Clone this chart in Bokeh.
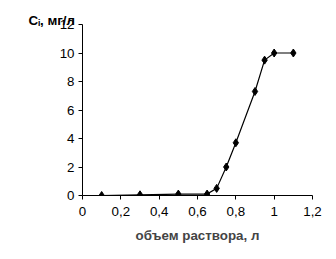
from bokeh.plotting import figure
from bokeh.models import FixedTicker, Range1d
from bokeh.embed import file_html
from bokeh.resources import INLINE

volume = [0.1, 0.3, 0.5, 0.65, 0.7, 0.75, 0.8, 0.9, 0.95, 1.0, 1.1]
conc = [0.0, 0.05, 0.1, 0.1, 0.5, 2.0, 3.7, 7.3, 9.5, 10.0, 10.0]
x_ticks = [0, 0.2, 0.4, 0.6, 0.8, 1.0, 1.2]
x_tick_labels = ["0", "0,2", "0,4", "0,6", "0,8", "1", "1,2"]
y_ticks = [0, 2, 4, 6, 8, 10, 12]
x_title = "объем раствора, л"
y_title = "Cᵢ, мг/л"

FONT = "Liberation Sans"

p = figure(width=336, height=259, output_backend="svg", toolbar_location=None,
           x_range=Range1d(0, 1.2), y_range=Range1d(0, 12),
           min_border_left=82, min_border_right=24, min_border_top=24, min_border_bottom=64,
           title=y_title)
p.outline_line_color = None
p.grid.visible = False
p.background_fill_color = "white"
p.border_fill_color = "white"

p.title.align = "left"
p.title.offset = -54
p.title.standoff = -6
p.title.text_font = FONT
p.title.text_font_size = "10pt"
p.title.text_font_style = "bold"
p.title.text_color = "black"

p.line(volume, conc, line_color="black", line_width=1.2)
p.scatter(volume, conc, marker="diamond", size=8, color="black")

for ax in (p.xaxis[0], p.yaxis[0]):
    ax.axis_line_color = "black"
    ax.major_tick_line_color = "black"
    ax.major_tick_in = 0
    ax.major_tick_out = 4
    ax.minor_tick_line_color = None
    ax.major_label_text_font = FONT
    ax.major_label_text_font_size = "10pt"
    ax.major_label_text_color = "black"

p.xaxis.ticker = FixedTicker(ticks=x_ticks)
p.xaxis.major_label_overrides = {t: l for t, l in zip(x_ticks, x_tick_labels)}
p.xaxis.major_label_standoff = 7
p.xaxis.axis_label = x_title
p.xaxis.axis_label_text_font = FONT
p.xaxis.axis_label_text_font_style = "bold"
p.xaxis.axis_label_text_font_size = "10pt"
p.xaxis.axis_label_standoff = 9

p.yaxis.ticker = FixedTicker(ticks=y_ticks)
p.yaxis.major_label_standoff = 4

open("out.html", "w").write(file_html(p, INLINE))
